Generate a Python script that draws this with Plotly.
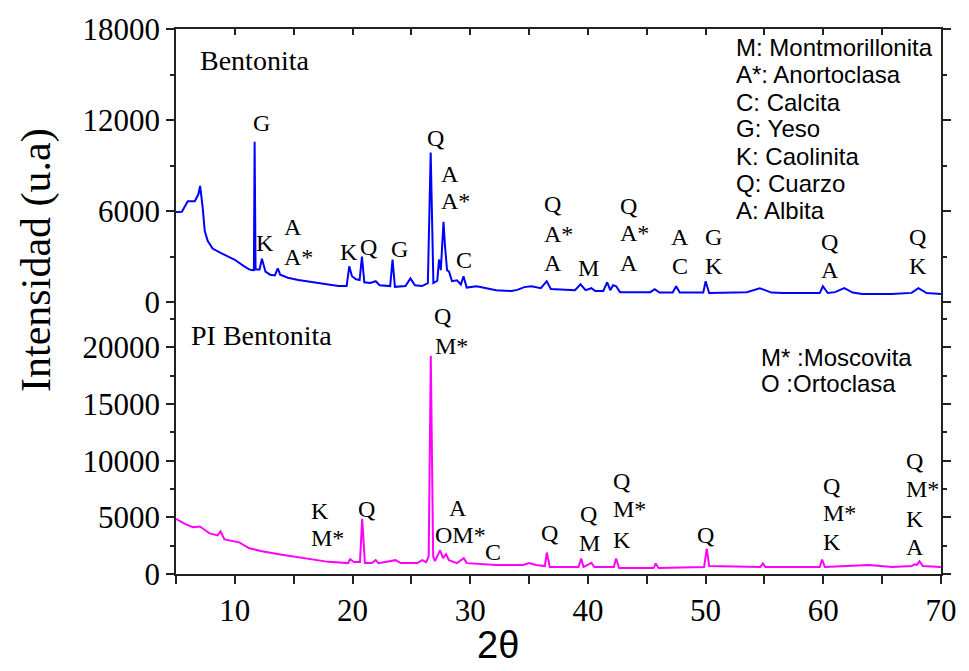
import plotly.graph_objects as go

# ---------------- data ----------------
bent_2theta = [5.0, 5.5, 6.0, 6.6, 6.9, 7.05, 7.27, 7.44, 7.69, 8.11, 8.87, 9.96, 10.8, 11.22, 11.5, 11.62,
               11.68, 11.76, 12.1, 12.3, 12.6, 13.0, 13.4, 13.65, 13.85, 14.5, 15.4, 17.0, 18.8, 19.5,
               19.72, 19.95, 20.3, 20.6, 20.8, 21.0, 21.5, 21.97, 22.3, 23.2, 23.4, 23.6, 24.5, 24.92,
               25.3, 25.9, 26.4, 26.64, 26.87, 27.2, 27.35, 27.5, 27.73, 27.86, 28.03, 28.2, 28.45, 28.87,
               29.2, 29.43, 29.7, 30.55, 32.2, 33.5, 34.0, 34.6, 35.2, 36.0, 36.5, 36.85, 38.9, 39.37,
               39.8, 40.29, 40.63, 41.3, 41.64, 41.9, 42.14, 42.4, 42.73, 45.3, 45.67, 46.09, 47.2, 47.5,
               47.8, 49.8, 50.0, 50.3, 53.5, 54.6, 55.6, 56.6, 59.7, 59.96, 60.38, 61.0, 61.78, 62.5,
               63.3, 65.8, 67.5, 68.08, 68.78, 70.0]
bent_int = [5930, 5950, 6650, 6650, 7100, 7650, 6200, 4700, 4040, 3520, 3200, 2800, 2350, 2150, 2090, 2100,
            10560, 2150, 2150, 2850, 2000, 1800, 1750, 2220, 1800, 1600, 1450, 1250, 1050, 1050,
            2350, 1700, 1500, 1450, 3000, 1300, 1250, 1370, 1100, 1050, 2800, 1000, 1050, 1560,
            1100, 1050, 1250, 9850, 1250, 1400, 2800, 2100, 5280, 3650, 2100, 2000, 1370, 1430,
            1150, 1700, 950, 1040, 780, 720, 800, 980, 1040, 910, 1370, 850, 780, 1170,
            780, 910, 720, 720, 1300, 780, 1110, 1040, 650, 650, 850, 620, 620, 1040,
            620, 620, 1370, 590, 650, 910, 620, 590, 590, 1040, 590, 650, 910, 620,
            520, 520, 600, 910, 590, 520]

pi_2theta = [5.0, 5.76, 6.43, 7.02, 7.27, 7.86, 8.53, 8.78, 9.12, 10.38, 11.22, 12.31, 13.74, 15.42, 17.94,
             19.62, 19.79, 20.13, 20.63, 20.82, 21.05, 21.64, 21.97, 22.2, 23.66, 24.08, 25.5, 25.92,
             26.26, 26.47, 26.65, 26.85, 27.0, 27.44, 27.69, 27.94, 28.19, 28.87, 29.45, 29.71, 32.23,
             34.5, 35.0, 35.6, 36.34, 36.51, 36.76, 39.2, 39.43, 39.62, 40.29, 40.55, 42.2, 42.39, 42.65,
             45.59, 45.76, 46.0, 49.87, 50.1, 50.3, 54.66, 54.86, 55.08, 59.7, 59.9, 60.13, 63.9, 65.84,
             67.5, 67.75, 67.94, 68.17, 68.45, 70.0]
pi_int = [4860, 4420, 4130, 4190, 4010, 3580, 3400, 3750, 3050, 2790, 2270, 2010, 1750, 1480, 1070,
          960, 1310, 1050, 1050, 4860, 960, 960, 1220, 960, 1220, 960, 960, 1220,
          1050, 1570, 19260, 1570, 1130, 2090, 1400, 1750, 1220, 960, 1400, 960, 790,
          790, 960, 790, 700, 1890, 610, 610, 1370, 610, 990, 610, 610, 1370, 520,
          520, 930, 520, 610, 2240, 700, 610, 930, 610, 610, 1280, 610, 790, 610,
          700, 850, 790, 1130, 700, 610]

# tick values / labels
x_ticks = [5, 10, 15, 20, 25, 30, 35, 40, 45, 50, 55, 60, 65, 70]
x_tick_text = ["", "10", "", "20", "", "30", "", "40", "", "50", "", "60", "", "70"]
top_y_ticks = [0, 6000, 12000, 18000]
top_y_text = ["0", "6000", "12000", "18000"]
top_y_minor = [3000, 9000, 15000]
bot_y_ticks = [0, 5000, 10000, 15000, 20000]
bot_y_text = ["0", "5000", "10000", "15000", "20000"]
bot_y_minor = [2500, 7500, 12500, 17500, 22500]

# peak labels (top panel: Bentonita)
top_lbl_text = ["G", "K", "A", "A*", "K", "Q", "G", "Q", "A", "A*", "C",
                "Q", "A*", "A", "M", "Q", "A*", "A", "A", "C", "G", "K", "Q", "A", "Q", "K"]
top_lbl_x = [12.23, 12.56, 13.99, 13.99, 19.71, 21.39, 23.99, 27.02, 27.35, 27.35, 29.45,
             36.09, 36.09, 36.09, 40.04, 42.56, 42.56, 42.56, 47.86, 47.86, 50.71, 50.71, 60.55, 60.55, 68.03, 68.03]
top_lbl_y = [11805, 3913, 4957, 3000, 3326, 3652, 3522, 10826, 8413, 6652, 2739,
             6457, 4500, 2544, 2217, 6326, 4565, 2544, 4305, 2348, 4305, 2348, 3978, 2087, 4305, 2348]
top_lbl_anchor = ["center", "center", "left", "left", "center", "center", "center", "center", "left", "left", "center",
                  "left", "left", "left", "center", "left", "left", "left", "center", "center", "center", "center",
                  "center", "center", "center", "center"]

# peak labels (bottom panel: PI Bentonita)
bot_lbl_text = ["Q", "M*", "K", "M*", "Q", "A", "OM*", "C", "Q", "Q", "M", "Q", "M*", "K", "Q",
                "Q", "M*", "K", "Q", "M*", "K", "A"]
bot_lbl_x = [27.61, 26.85, 16.26, 16.26, 21.22, 28.95, 26.8, 31.9, 36.76, 40.04, 40.13, 41.97, 41.97, 41.97, 49.96,
             59.79, 59.79, 59.79, 66.85, 66.85, 66.85, 66.85]
bot_lbl_y = [22775, 20157, 5585, 3141, 5759, 5846, 3403, 1950, 3578, 5323, 2705, 8202, 5759, 2967, 3403,
             7766, 5410, 2792, 9948, 7504, 4887, 2356]
bot_lbl_anchor = ["center", "left", "left", "left", "center", "center", "left", "center", "center", "center", "center",
                  "left", "left", "left", "center", "left", "left", "left", "left", "left", "left", "left"]

legend_top = ["M: Montmorillonita", "A*: Anortoclasa", "C: Calcita", "G: Yeso", "K: Caolinita",
              "Q: Cuarzo", "A: Albita"]
legend_bot = ["M* :Moscovita", "O :Ortoclasa"]

# ---------------- layout helpers ----------------
W, H = 969, 671
L, R, T, B = 176, 20, 23, 97
PW, PH = W - L - R, H - T - B
SPLIT_PX = 312  # pixel row where the two panels meet


def px_x(p):
    return (p - L) / PW


def px_y(p):
    return (H - B - p) / PH


split = px_y(SPLIT_PX)

SERIF = "Liberation Serif"
SANS = "Liberation Sans"
AX = "#222222"

fig = go.Figure()
fig.add_trace(go.Scatter(x=bent_2theta, y=bent_int, mode="lines", xaxis="x2", yaxis="y2",
                         line=dict(color="#0000FF", width=2), showlegend=False))
fig.add_trace(go.Scatter(x=pi_2theta, y=pi_int, mode="lines", xaxis="x", yaxis="y",
                         line=dict(color="#FF00FF", width=2), showlegend=False))

ann = []
for t, x, y, a in zip(top_lbl_text, top_lbl_x, top_lbl_y, top_lbl_anchor):
    ann.append(dict(text=t, x=x, y=y, xref="x2", yref="y2", xanchor=a, yanchor="middle",
                    showarrow=False, font=dict(family=SERIF, size=24, color="black")))
for t, x, y, a in zip(bot_lbl_text, bot_lbl_x, bot_lbl_y, bot_lbl_anchor):
    ann.append(dict(text=t, x=x, y=y, xref="x", yref="y", xanchor=a, yanchor="middle",
                    showarrow=False, font=dict(family=SERIF, size=24, color="black")))

legend_top_rows = [42, 69, 97, 124, 152, 179, 207]
for t, r in zip(legend_top, legend_top_rows):
    ann.append(dict(text=t, x=px_x(740), y=px_y(r), xref="paper", yref="paper", xanchor="left",
                    yanchor="middle", showarrow=False, font=dict(family=SANS, size=24, color="black")))
for t, r in zip(legend_bot, [355, 381]):
    ann.append(dict(text=t, x=px_x(765), y=px_y(r), xref="paper", yref="paper", xanchor="left",
                    yanchor="middle", showarrow=False, font=dict(family=SANS, size=24, color="black")))

ann.append(dict(text="Bentonita", x=px_x(198), y=px_y(55), xref="paper", yref="paper", xanchor="left",
                yanchor="middle", showarrow=False, font=dict(family=SERIF, size=28, color="black")))
ann.append(dict(text="PI Bentonita", x=px_x(189), y=px_y(333), xref="paper", yref="paper", xanchor="left",
                yanchor="middle", showarrow=False, font=dict(family=SERIF, size=28, color="black")))
ann.append(dict(text="Intensidad (u.a)", x=px_x(35), y=px_y(256), xref="paper", yref="paper",
                xanchor="center", yanchor="middle", textangle=-90, showarrow=False,
                font=dict(family=SERIF, size=42, color="black")))
ann.append(dict(text="2θ", x=px_x(501), y=px_y(646), xref="paper", yref="paper",
                xanchor="center", yanchor="middle", showarrow=False,
                font=dict(family=SANS, size=38, color="black")))

top_px_per_unit = 92 / 6000.0
bot_px_per_unit = 57.3 / 5000.0
top_min = -(SPLIT_PX - 299) / top_px_per_unit
bot_max = (574 - SPLIT_PX) / bot_px_per_unit

common_y = dict(showgrid=False, zeroline=False, showline=True, linecolor=AX, linewidth=1.5,
                ticks="outside", ticklen=8, tickwidth=1.5, tickcolor=AX, mirror="ticks",
                tickfont=dict(family=SERIF, size=31, color="black"))

fig.update_layout(
    width=W, height=H,
    margin=dict(l=L, r=R, t=T, b=B, pad=0),
    paper_bgcolor="white", plot_bgcolor="white",
    annotations=ann,
    xaxis=dict(domain=[0, 1], anchor="y", range=[5, 70], showgrid=False, zeroline=False,
               showline=True, linecolor=AX, linewidth=1.5, ticks="outside", ticklen=8,
               tickwidth=1.5, tickcolor=AX, tickvals=x_ticks, ticktext=x_tick_text,
               tickfont=dict(family=SERIF, size=31, color="black")),
    xaxis2=dict(domain=[0, 1], anchor="y2", matches="x", range=[5, 70], side="top",
                showgrid=False, zeroline=False, showline=True, linecolor=AX, linewidth=1.5,
                ticks="inside", ticklen=6, tickwidth=1.5, tickcolor=AX, tickvals=x_ticks,
                showticklabels=False),
    yaxis=dict(domain=[0, split], anchor="x", range=[0, bot_max],
               tickvals=bot_y_ticks, ticktext=bot_y_text,
               minor=dict(tickvals=bot_y_minor, ticks="outside", ticklen=4,
                          tickwidth=1.5, tickcolor=AX),
               **common_y),
    yaxis2=dict(domain=[split, 1], anchor="x2", range=[top_min, 18000],
                tickvals=top_y_ticks, ticktext=top_y_text,
                minor=dict(tickvals=top_y_minor, ticks="outside", ticklen=4,
                           tickwidth=1.5, tickcolor=AX),
                **common_y),
)

fig.write_html("out.html")
